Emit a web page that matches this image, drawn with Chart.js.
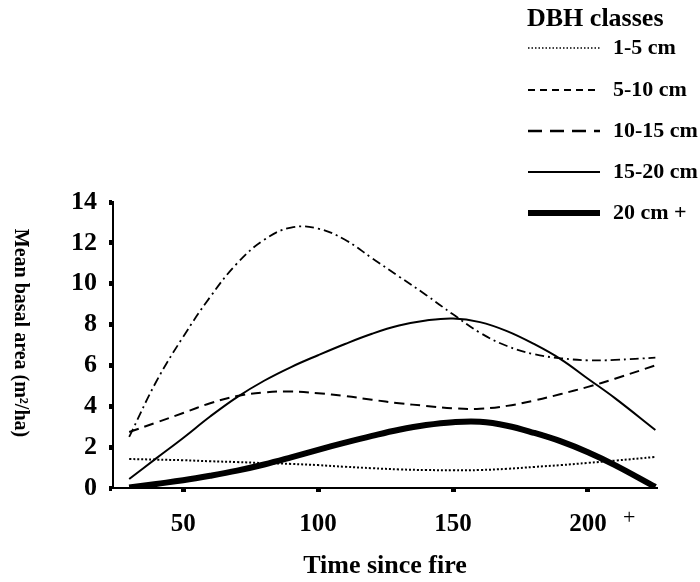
<!DOCTYPE html>
<html>
<head>
<meta charset="utf-8">
<script src="https://cdn.jsdelivr.net/npm/chart.js@4/dist/chart.umd.min.js"></script>
<style>
  html, body { margin: 0; padding: 0; background: #fff; }
  #wrap { width: 700px; height: 582px; }
</style>
</head>
<body>
<div id="wrap"><canvas id="chart"></canvas></div>
<script>
// 時間軸（火災後の年数）
var years = [30, 40, 50, 60, 70, 80, 90, 100, 110, 120, 130, 140, 150, 160, 170, 180, 190, 200, 210, 225];

// DBHクラス別の平均胸高断面積 (m2/ha)
var dbh1to5   = [1.42, 1.39, 1.36, 1.31, 1.27, 1.22, 1.18, 1.12, 1.04, 0.97, 0.91, 0.88, 0.87, 0.88, 0.94, 1.03, 1.12, 1.23, 1.34, 1.52];
var dbh5to10  = [2.5, 5.2, 7.4, 9.35, 11.0, 12.15, 12.75, 12.7, 12.15, 11.25, 10.35, 9.45, 8.5, 7.6, 6.95, 6.55, 6.35, 6.25, 6.27, 6.38];
var dbh10to15 = [2.74, 3.2, 3.67, 4.15, 4.5, 4.68, 4.72, 4.64, 4.5, 4.32, 4.15, 4.02, 3.9, 3.88, 4.02, 4.28, 4.6, 4.95, 5.35, 6.0];
var dbh15to20 = [0.44, 1.45, 2.45, 3.5, 4.45, 5.25, 5.92, 6.5, 7.05, 7.55, 7.95, 8.2, 8.3, 8.12, 7.68, 7.05, 6.3, 5.35, 4.4, 2.84];
var dbh20plus = [0.02, 0.2, 0.38, 0.6, 0.85, 1.15, 1.5, 1.87, 2.22, 2.55, 2.85, 3.08, 3.22, 3.24, 3.05, 2.7, 2.28, 1.75, 1.12, 0.05];

var classLabels = ['1-5 cm', '5-10 cm', '10-15 cm', '15-20 cm', '20 cm +'];
var xTicks = [50, 100, 150, 200];
var yTicks = [0, 2, 4, 6, 8, 10, 12, 14];

var SERIF = '"Liberation Serif", "Times New Roman", serif';

function toPoints(values) {
    var pts = [];
    for (var i = 0; i < years.length; i++) {
        pts.push({ x: years[i], y: values[i] });
    }
    return pts;
}

function makeSet(idx, values, width, dash, legendDash, legendWidth) {
    return {
        label: classLabels[idx],
        data: toPoints(values),
        borderColor: '#000',
        borderWidth: width,
        borderDash: dash,
        legendDash: legendDash,
        legendWidth: legendWidth,
        pointRadius: 0,
        tension: 0.4,
        fill: false
    };
}

// 凡例（右上、タイトル付き）とY軸タイトルを手描きする
var dbhLegend = {
    id: 'dbhLegend',
    afterDraw: function(chart) {
        var ctx = chart.ctx;
        ctx.save();
        ctx.fillStyle = '#000';
        ctx.textBaseline = 'middle';
        ctx.font = 'bold 26px ' + SERIF;
        ctx.fillText('DBH classes', 527, 19);

        var rows = [48, 90, 131, 172, 213];
        var sets = chart.data.datasets;
        for (var i = 0; i < sets.length; i++) {
            ctx.beginPath();
            ctx.strokeStyle = '#000';
            ctx.lineWidth = sets[i].legendWidth;
            ctx.setLineDash(sets[i].legendDash);
            ctx.moveTo(528, rows[i]);
            ctx.lineTo(600, rows[i]);
            ctx.stroke();
            ctx.setLineDash([]);
            ctx.font = 'bold 22px ' + SERIF;
            ctx.fillText(sets[i].label, 613, rows[i]);
        }

        // 200の横の「+」
        ctx.font = '22px ' + SERIF;
        ctx.fillText('+', 623, 518);

        // Y軸タイトル（縦書き）
        ctx.translate(20, 333);
        ctx.rotate(Math.PI / 2);
        ctx.textAlign = 'center';
        ctx.font = 'bold 20px ' + SERIF;
        ctx.fillText('Mean basal area (m\u00B2/ha)', 0, 0);
        ctx.restore();
    }
};

new Chart(document.getElementById('chart'), {
    type: 'line',
    data: {
        datasets: [
            makeSet(0, dbh1to5, 2, [2, 2], [1.5, 2], 1.5),
            makeSet(1, dbh5to10, 1.8, [9, 4, 2, 4], [7, 5], 2),
            makeSet(2, dbh10to15, 2, [10, 6], [14, 8], 2.5),
            makeSet(3, dbh15to20, 2, [], [], 2),
            makeSet(4, dbh20plus, 6, [], [], 6)
        ]
    },
    options: {
        responsive: true,
        maintainAspectRatio: false,
        animation: false,
        layout: { padding: { top: 202, right: 43, left: 0, bottom: 0 } },
        plugins: {
            legend: { display: false },
            tooltip: { enabled: false }
        },
        scales: {
            x: {
                type: 'linear',
                min: 24,
                max: 225.6,
                afterBuildTicks: function(scale) {
                    scale.ticks = xTicks.map(function(v) { return { value: v }; });
                },
                afterFit: function(scale) { scale.height = 94; },
                border: { display: true, color: '#000', width: 2 },
                grid: { drawOnChartArea: false, tickLength: 4, tickWidth: 5, tickColor: '#000' },
                ticks: {
                    color: '#000',
                    padding: 18,
                    font: { family: SERIF, size: 25, weight: 'bold' }
                },
                title: {
                    display: true,
                    text: 'Time since fire',
                    color: '#000',
                    padding: { top: 0, bottom: 0 },
                    font: { family: SERIF, size: 26, weight: 'bold' }
                }
            },
            y: {
                min: 0,
                max: 14,
                afterBuildTicks: function(scale) {
                    scale.ticks = yTicks.map(function(v) { return { value: v }; });
                },
                afterFit: function(scale) { scale.width = 113; },
                border: { display: true, color: '#000', width: 2 },
                grid: { drawOnChartArea: false, tickLength: 4, tickWidth: 5, tickColor: '#000' },
                ticks: {
                    color: '#000',
                    padding: 12,
                    font: { family: SERIF, size: 26, weight: 'bold' }
                }
            }
        }
    },
    plugins: [dbhLegend]
});
</script>
</body>
</html>
